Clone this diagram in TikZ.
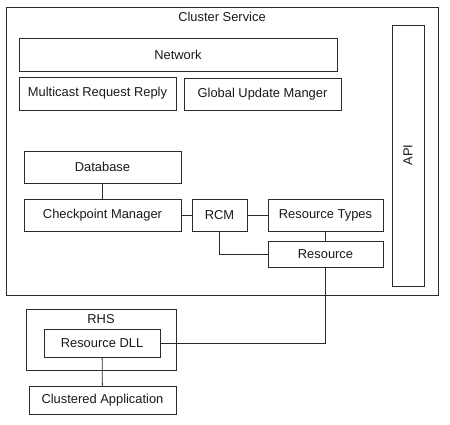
\documentclass[tikz,border=0pt]{standalone}
\usepackage{fontspec}
\setmainfont{Liberation Sans}
\usepackage{xcolor}
\definecolor{cLine}{HTML}{2B2B2B}
\definecolor{cText}{HTML}{1A1A1A}
\usepackage{tikz}
\usetikzlibrary{calc}
\tikzset{
  node-box/.style={draw=cLine,line width=0.9pt,inner sep=0pt,align=center,
    text=cText,font=\fontsize{12.9}{14}\selectfont},
  node-frame/.style={draw=cLine,line width=0.9pt,inner sep=0pt},
  node-label/.style={text=cText,inner sep=0pt,font=\fontsize{12.9}{14}\selectfont},
  link/.style={draw=cLine,line width=0.8pt},
}

\begin{document}
\begin{tikzpicture}[x=1pt,y=-1pt]
  \useasboundingbox[fill=white] (0,0) rectangle (450,425);
  % cluster service frame
  \node[node-frame,minimum width=432pt,minimum height=288pt] (cluster) at (222,151) {};
  \node[node-label] (clustertitle) at (222,17) {Cluster Service};
  \node[node-box,minimum width=318pt,minimum height=33pt] (network) at (178,54.5) {Network};
  \node[node-box,minimum width=157pt,minimum height=33pt] (multicast) at (97.5,93.5) {Multicast Request Reply};
  \node[node-box,minimum width=157pt,minimum height=32pt] (gum) at (262.5,94) {Global Update Manger};
  \node[node-box,minimum width=32pt,minimum height=261pt] (api) at (408,155.5) {};
  \node[node-label,rotate=90] (apilabel) at (408,155) {API};
  \node[node-box,minimum width=157pt,minimum height=32pt] (database) at (102.5,167) {Database};
  \node[node-box,minimum width=157pt,minimum height=32pt] (checkpoint) at (102.5,215) {Checkpoint Manager};
  \node[node-box,minimum width=55pt,minimum height=32pt] (rcm) at (219.5,215) {RCM};
  \node[node-box,minimum width=115pt,minimum height=32pt] (restypes) at (325.5,215) {Resource Types};
  \node[node-box,minimum width=115pt,minimum height=26pt] (resource) at (325.5,254) {Resource};
  % resource host subsystem
  \node[node-frame,minimum width=150pt,minimum height=61pt] (rhs) at (101,339.5) {};
  \node[node-label] (rhstitle) at (101,319) {RHS};
  \node[node-box,minimum width=116pt,minimum height=28pt] (resdll) at (102,343) {Resource DLL};
  \node[node-box,minimum width=147pt,minimum height=28pt] (clusapp) at (102.5,400) {Clustered Application};
  \draw[link] (database) -- (checkpoint);
  \draw[link] (checkpoint) -- (rcm);
  \draw[link] (rcm) -- (restypes);
  \draw[link] (restypes) -- (resource);
  \draw[link] (rcm.south) |- (resource.west);
  \draw[link] (resource.south) |- (resdll.east);
  \draw[link] (resdll) -- (clusapp);
\end{tikzpicture}
\end{document}
